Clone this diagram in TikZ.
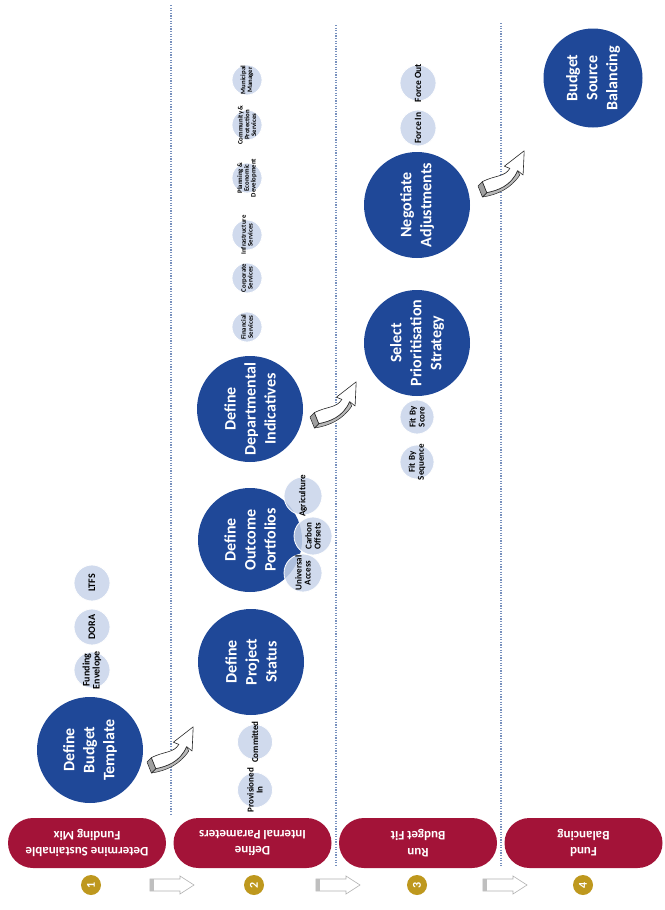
\documentclass[tikz,border=0pt]{standalone}
\usepackage{fontspec}
\setmainfont{Carlito}
\definecolor{bigblue}{RGB}{31,72,152}
\definecolor{smallblue}{RGB}{200,212,234}
\definecolor{hdrred}{RGB}{163,19,56}
\definecolor{goldc}{RGB}{190,152,30}
\definecolor{dotcol}{RGB}{120,145,190}
\tikzset{
  bigc/.style={circle, fill=bigblue, inner sep=0pt, minimum size=106pt},
  bigtext/.style={text=white, font=\fontsize{16}{20}\selectfont\bfseries, align=center, rotate=90, inner sep=0pt},
  smallc/.style={circle, fill=smallblue, fill opacity=0.85, draw=white, line width=0.8pt, inner sep=0pt},
  subtext/.style={text=black, align=center, rotate=90, inner sep=0pt, font=\fontsize{#1}{#1}\selectfont\bfseries},
  subtext/.default=8,
  header/.style={fill=hdrred, rounded corners=25pt, minimum width=158pt, minimum height=50pt, inner sep=0pt, rotate=180, text=white, align=center, font=\fontsize{13}{16.5}\selectfont\bfseries},
  numc/.style={circle, fill=goldc, minimum size=20pt, inner sep=0pt, text=white, rotate=90, font=\fontsize{12}{12}\selectfont\bfseries},
  sep/.style={draw=dotcol, line width=1.2pt, dash pattern=on 1.2pt off 1.4pt},
  blockarrow/.style={draw=gray!60, fill=white, line width=0.6pt},
}
\newcommand{\mysub}[6]{% name, x, y, radius, fontsize, text
  \node[smallc, minimum size=#4] (#1) at (#2,#3) {};
  \node[subtext=#5] (#1t) at (#1.center) {#6};
}
\newcommand{\mybig}[5]{% name, x, y, radius, text
  \node[bigc, minimum size=#4] (#1) at (#2,#3) {};
  \node[bigtext] (#1t) at (#1.center) {#5};
}
\newcommand{\sketcharrow}[2]{% origin x, y (lower-left corner)
  \begin{scope}[shift={(#1,#2)}, scale=1.1, line join=round]
    \fill[gray!55, draw=gray!30!black, line width=0.5pt] (4,0) .. controls (18,-2) and (30,-8) .. (38,-20) -- (36,-24) .. controls (30,-10) and (18,-6) .. (8,-4) -- cycle;
    \fill[gray!75, draw=gray!30!black, line width=0.5pt] (0,-10) -- (4,-14) -- (8,-4) -- (4,0) -- cycle;
    \filldraw[fill=white, draw=gray!30!black, line width=0.6pt] (4,-14) .. controls (16,-20) and (24,-18) .. (29,-26) -- (24,-28) -- (42,-42) -- (41,-20) -- (36,-24) .. controls (30,-10) and (18,-6) .. (8,-4) -- cycle;
  \end{scope}
}
\newcommand{\blockarr}[2]{% x0, name
  \draw[blockarrow] (#1,879) -- (#1+30,879) -- (#1+30,876) -- (#1+44,885) -- (#1+30,894) -- (#1+30,891) -- (#1,891) -- cycle;
  \fill[gray!50] (#1+0.3,879.3) rectangle (#1+4,890.7);
  \coordinate (#2) at (#1+22,885);
}
\begin{document}
\begin{tikzpicture}[x=1pt,y=-1pt]
\useasboundingbox (0,0) rectangle (664,910);
\fill[white] (0,0) rectangle (664,910);

% lane separators
\coordinate (s1a) at (171,5);   \coordinate (s1b) at (171,815);
\coordinate (s2a) at (336,25);  \coordinate (s2b) at (336,866);
\coordinate (s3a) at (501,23);  \coordinate (s3b) at (501,866);
\draw[sep] (s1a) -- (s1b);
\draw[sep] (s2a) -- (s2b);
\draw[sep] (s3a) -- (s3b);

% headers
\node[header] (h1) at (87,843) {Determine Sustainable\\Funding Mix};
\node[header] (h2) at (252.5,843) {Define\\Internal Parameters};
\node[header] (h3) at (418,843) {Run\\Budget Fit};
\node[header] (h4) at (583.5,843) {Fund\\Balancing};

% numbers
\node[numc] (n1) at (91,885) {1};
\node[numc] (n2) at (254,885) {2};
\node[numc] (n3) at (417,885) {3};
\node[numc] (n4) at (583,885) {4};

% bottom block arrows
\blockarr{150}{b1}
\blockarr{316}{b2}
\blockarr{483}{b3}

% lane 1
\mybig{tmpl}{90}{750}{106pt}{Define\\Budget\\Template}
\mysub{fe}{92}{670}{36pt}{10}{Funding\\Envelope}
\mysub{dora}{92}{627}{36pt}{10}{DORA}
\mysub{ltfs}{92}{583}{36pt}{10}{LTFS}
\sketcharrow{147}{773}

% lane 2
\mybig{proj}{251}{662}{106pt}{Define\\Project\\Status}
\mysub{comm}{255}{742}{35pt}{9}{Committed}
\mysub{prov}{255}{790}{35pt}{9}{Provisioned\\In}

\mybig{outc}{250}{540}{104pt}{Define\\Outcome\\Portfolios}
\mysub{agri}{303}{496}{38pt}{9}{Agriculture}
\mysub{carb}{313}{536}{38pt}{9}{Carbon\\Offsets}
\mysub{univ}{303}{573}{38pt}{9}{Universal\\Access}

\mybig{dept}{250}{409}{106pt}{Define\\Departmental\\Indicatives}
\mysub{fin}{247}{327}{30pt}{6.8}{Financial\\Services}
\mysub{corp}{247}{278}{30pt}{6.8}{Corporate\\Services}
\mysub{infra}{247}{235}{30pt}{6.8}{Infrastructure\\Services}
\mysub{plan}{247}{178}{30pt}{6.8}{Planning \&\\Economic\\Development}
\mysub{cps}{247}{125}{30pt}{6.8}{Community \&\\Protection\\Services}
\mysub{mm}{247}{80}{30pt}{6.8}{Municipal\\Manager}
\sketcharrow{310}{428}

% lane 3
\mybig{sel}{417}{343}{106pt}{Select\\Prioritisation\\Strategy}
\mysub{fbs}{417}{417}{34pt}{9}{Fit By\\Score}
\mysub{fbq}{417}{462}{34pt}{9}{Fit By\\Sequence}

\mybig{neg}{417}{205}{106pt}{Negotiate\\Adjustments}
\mysub{fin2}{418}{128}{36pt}{9.5}{Force In}
\mysub{fout}{418}{83}{36pt}{9.5}{Force Out}
\sketcharrow{478}{197}

% lane 4
\mybig{bal}{593}{78}{99pt}{Budget\\Source\\Balancing}
\end{tikzpicture}
\end{document}
